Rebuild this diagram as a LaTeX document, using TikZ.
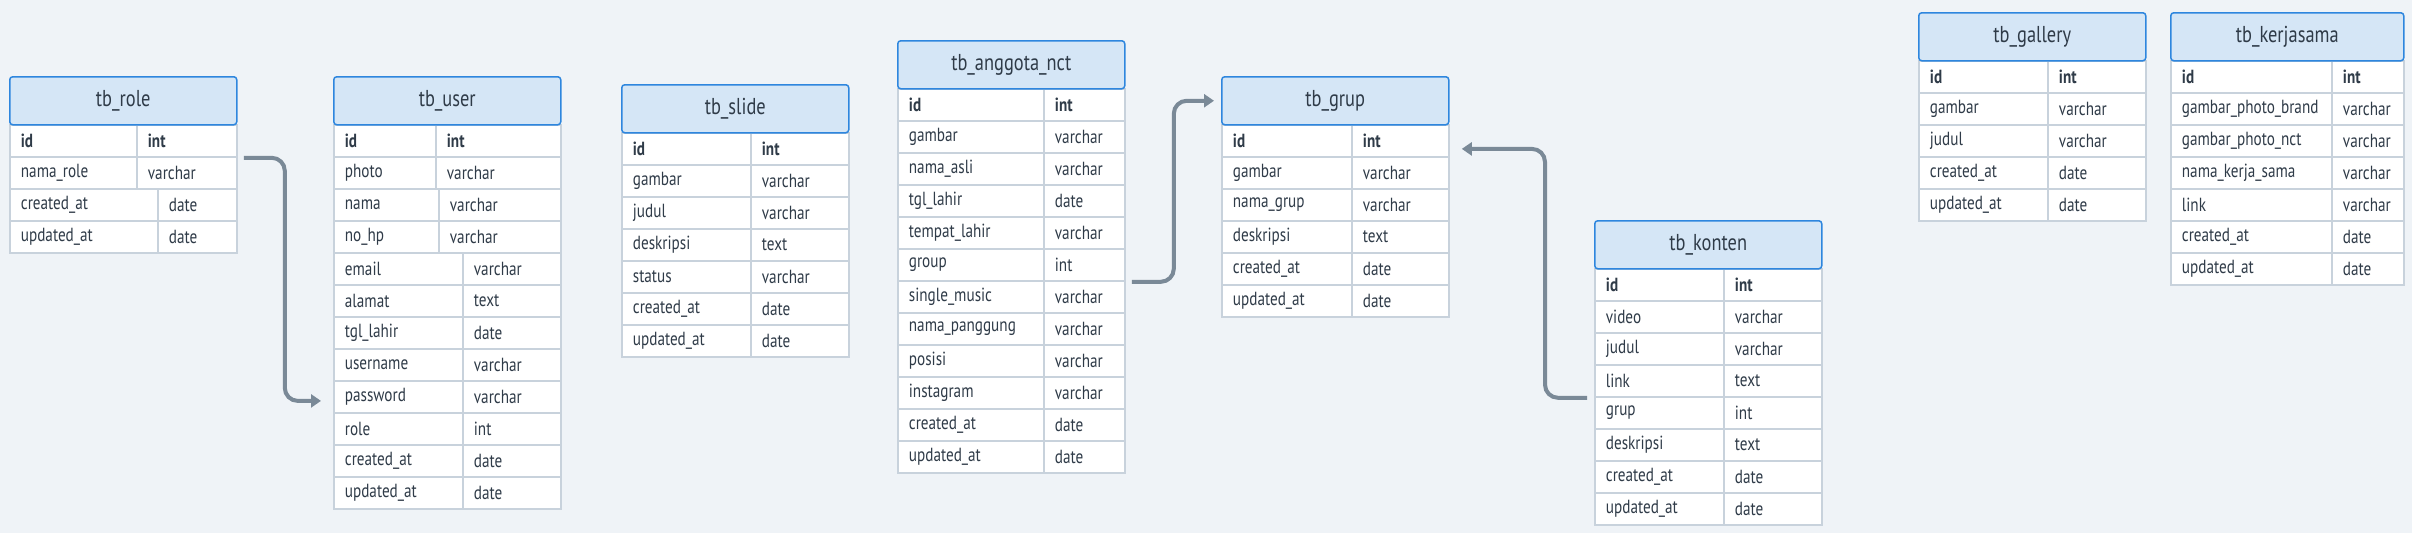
\documentclass[tikz,border=0pt]{standalone}
\usepackage{fontspec}
\setmainfont{PT Sans}[FakeStretch=0.8]
\usetikzlibrary{arrows.meta}

\definecolor{bgpage}{HTML}{EFF3F7}
\definecolor{headfill}{HTML}{D5E6F6}
\definecolor{headline}{HTML}{2E86DE}
\definecolor{rowline}{HTML}{C8D2DC}
\definecolor{textdark}{HTML}{2F3B48}
\definecolor{linkgray}{HTML}{7A8997}

\tikzset{
  headbox/.style={draw=headline, fill=headfill, line width=1.5pt, rounded corners=3pt,
    minimum height=48pt, inner sep=0pt, anchor=north west, text=textdark,
    font=\fontsize{23}{26}\selectfont},
  cellbox/.style={draw=rowline, fill=white, line width=1.8pt, minimum height=32pt,
    inner xsep=11pt, inner ysep=0pt, align=left, anchor=north west, text=textdark,
    font=\fontsize{19}{22}\selectfont},
  fklink/.style={draw=linkgray, line width=4pt, rounded corners=13pt,
    -{Triangle[length=10pt,width=13pt]}}
}

% table: name, left, top, width, title, rows (field/type/split)
\newcommand{\dbtable}[6]{
  \foreach \fld/\typ/\spl [count=\i] in {#6} {
    \pgfmathsetmacro{\ytop}{#3+48+(\i-1)*32}
    \pgfmathsetmacro{\xmid}{#2+\spl}
    \pgfmathsetmacro{\wa}{\spl-22}
    \pgfmathsetmacro{\wb}{#4-\spl-22}
    \node[cellbox, text width=\wa pt] (#1-\i-n) at (#2,\ytop) {\ifnum\i=1 \bfseries\fi\fld};
    \node[cellbox, text width=\wb pt] (#1-\i-t) at (\xmid,\ytop) {\ifnum\i=1 \bfseries\fi\typ};
  }
  \node[headbox, minimum width=#4pt] (#1-h) at (#2,#3) {#5};
}

\begin{document}
\begin{tikzpicture}[x=1pt,y=-1pt]
  % Page
  \fill[bgpage] (0,0) rectangle (2412,533);

  % Tables
  \dbtable{role}{9}{76}{227}{tb\_role}{id/int/127, nama\_role/varchar/127,
    created\_at/date/148, updated\_at/date/148}
  \dbtable{user}{333}{76}{227}{tb\_user}{id/int/102, photo/varchar/102,
    nama/varchar/105, no\_hp/varchar/105, email/varchar/129, alamat/text/129,
    tgl\_lahir/date/129, username/varchar/129, password/varchar/129,
    role/int/129, created\_at/date/129, updated\_at/date/129}
  \dbtable{slide}{621}{84}{227}{tb\_slide}{id/int/129, gambar/varchar/129,
    judul/varchar/129, deskripsi/text/129, status/varchar/129,
    created\_at/date/129, updated\_at/date/129}
  \dbtable{anggota}{897}{40}{227}{tb\_anggota\_nct}{id/int/146,
    gambar/varchar/146, nama\_asli/varchar/146, tgl\_lahir/date/146,
    tempat\_lahir/varchar/146, group/int/146, single\_music/varchar/146,
    nama\_panggung/varchar/146, posisi/varchar/146, instagram/varchar/146,
    created\_at/date/146, updated\_at/date/146}
  \dbtable{grup}{1221}{76}{227}{tb\_grup}{id/int/130, gambar/varchar/130,
    nama\_grup/varchar/130, deskripsi/text/130, created\_at/date/130,
    updated\_at/date/130}
  \dbtable{konten}{1594}{220}{227}{tb\_konten}{id/int/129, video/varchar/129,
    judul/varchar/129, link/text/129, grup/int/129, deskripsi/text/129,
    created\_at/date/129, updated\_at/date/129}
  \dbtable{gallery}{1918}{12}{227}{tb\_gallery}{id/int/129, gambar/varchar/129,
    judul/varchar/129, created\_at/date/129, updated\_at/date/129}
  \dbtable{kerja}{2170}{12}{233}{tb\_kerjasama}{id/int/161,
    gambar\_photo\_brand/varchar/161, gambar\_photo\_nct/varchar/161,
    nama\_kerja\_sama/varchar/161, link/varchar/161, created\_at/date/161,
    updated\_at/date/161}

  % Relations
  \draw[fklink] ([xshift=6pt]role-1-t.south east) -- ++(41,0)
    |- ([xshift=-12pt,yshift=-4pt]user-9-n.west);
  \draw[fklink] ([xshift=6pt]anggota-6-t.south east) -- ++(42,0)
    |- ([xshift=-7pt]grup-h.west);
  \draw[fklink] ([xshift=-7pt]konten-4-n.south west) -- ++(-42,0)
    |- ([xshift=12pt,yshift=-8pt]grup-1-t.east);
\end{tikzpicture}
\end{document}
